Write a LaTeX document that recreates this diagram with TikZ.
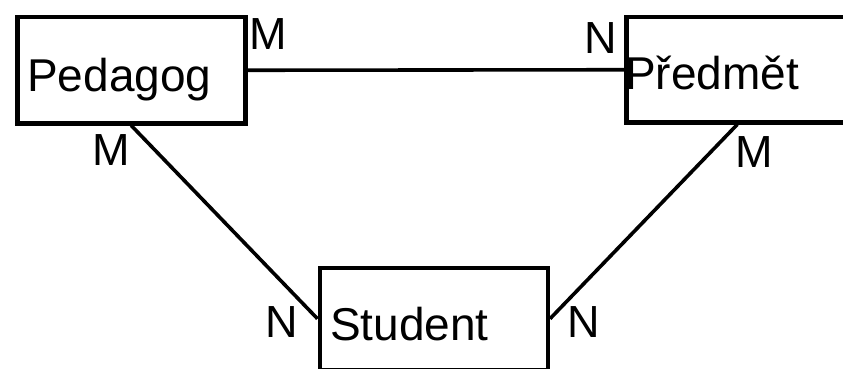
\documentclass[tikz,border=0pt]{standalone}
\usepackage{fontspec}
\setmainfont{Liberation Sans}
\begin{document}
\begin{tikzpicture}[x=1pt,y=-1pt,
  entity/.style={draw, line width=4.5pt, inner sep=0pt, anchor=north west},
  link/.style={line width=3.6pt},
  ename/.style={inner sep=0pt, anchor=base west, font=\fontsize{46}{52}\selectfont},
  card/.style={inner sep=0pt, anchor=base west, font=\fontsize{45}{50}\selectfont}]
\useasboundingbox (0,0) rectangle (843,369);
\clip (0,0) rectangle (843,369);
% entity boxes
\node[entity, minimum width=228pt, minimum height=106pt] (ped) at (15,15) {};
\node[entity, minimum width=222pt, minimum height=105pt] (pred) at (624,15) {};
\node[entity, minimum width=228pt, minimum height=102pt] (stud) at (317.5,265.5) {};
% entity names
\node[ename] (tped) at (27,91) {Pedagog};
\node[ename] (tpred) at (625,89) {Předmět};
\node[ename] (tstud) at (330,340) {Student};
% relationships
\draw[link] (ped.east) -- (pred.west);
\draw[link] (ped.south) -- (stud.west);
\draw[link] (pred.south) -- (stud.east);
% cardinalities
\node[card] (c1) at (249,50) {M};
\node[card] (c2) at (584,53) {N};
\node[card] (c3) at (92,165) {M};
\node[card] (c4) at (735,167) {M};
\node[card] (c5) at (265,337) {N};
\node[card] (c6) at (567,337) {N};
\end{tikzpicture}
\end{document}
